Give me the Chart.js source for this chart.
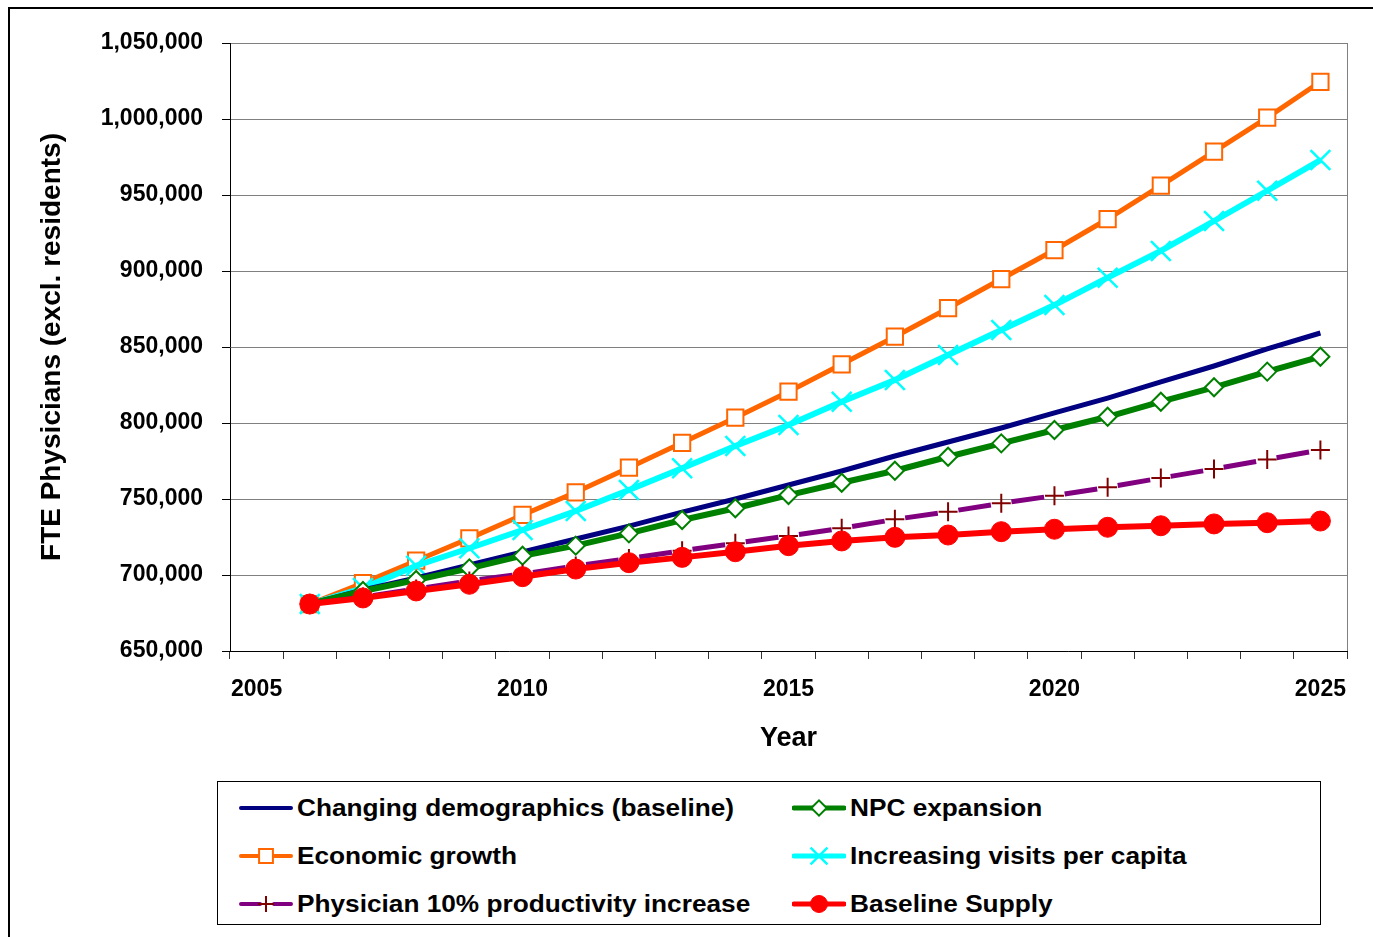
<!DOCTYPE html>
<html>
<head>
<meta charset="utf-8">
<script src="https://cdn.jsdelivr.net/npm/chart.js"></script>
<style>
    body { margin: 0; background: #fff; font-family: "Liberation Sans", Arial, sans-serif; }
    #frame { position: absolute; left: 8px; top: 7px; width: 1400px; height: 960px; border: 2px solid #000; box-sizing: border-box; }
    #wrap { position: absolute; left: 0; top: 0; width: 1373px; height: 937px; }
    #legend { position: absolute; left: 217px; top: 781px; width: 1104px; height: 144px; border: 1px solid #000; box-sizing: border-box; background: #fff; }
    .item { position: absolute; height: 30px; display: flex; align-items: center; }
    .item canvas { display: block; }
    .item span { font-weight: bold; font-size: 23px; color: #000; white-space: nowrap; transform: scaleX(1.14); transform-origin: left center; margin-left: 4px; }
</style>
</head>
<body>
<div id="frame"></div>
<div id="wrap"><canvas id="physChart" width="1373" height="937"></canvas></div>
<div id="legend"></div>
<script>
// category axis (2005 has no data)
const years = [2005, 2006, 2007, 2008, 2009, 2010, 2011, 2012, 2013, 2014, 2015,
    2016, 2017, 2018, 2019, 2020, 2021, 2022, 2023, 2024, 2025];

// series values 2006..2025
const demographics = [680900, 690100, 698000, 706600, 715100, 723700, 732200, 741400, 750000, 759200,
    768400, 778300, 787500, 796700, 806600, 816400, 827000, 837500, 848700, 859200];
const npcExpansion = [680900, 689500, 696700, 704400, 712700, 719300, 727400, 736200, 743900, 752600,
    760700, 768600, 777800, 786600, 795400, 804100, 814000, 823500, 833800, 843600];
const economicGrowth = [680900, 694700, 709400, 724100, 739500, 754400, 770600, 787000, 803500, 820600,
    838600, 856800, 875500, 894700, 913800, 934200, 956100, 978500, 1000900, 1024500];
const visitsPerCapita = [680900, 691400, 706100, 717600, 729600, 742100, 755900, 770200, 784900, 798700,
    814000, 828300, 844700, 861200, 877600, 895600, 913200, 932900, 952800, 973000];
const productivity = [680900, 685500, 690800, 696100, 700700, 705900, 710900, 716000, 720900, 725700,
    730700, 736600, 741600, 747200, 752200, 757700, 763800, 769700, 776000, 782200];
const baselineSupply = [680900, 684900, 689500, 693900, 698900, 703900, 708100, 711600, 715300, 719300,
    722400, 724800, 726300, 728500, 730100, 731400, 732400, 733600, 734400, 735500];

const yTicks = [650000, 700000, 750000, 800000, 850000, 900000, 950000, 1000000, 1050000];

Chart.defaults.font.family = '"Liberation Sans", Arial, sans-serif';
Chart.defaults.color = '#000';

function withGap(values) {
    return [null].concat(values);
}

const seriesDefs = [
    { label: 'Changing demographics (baseline)', values: demographics, color: '#000080', width: 5,
        point: false, order: 3 },
    { label: 'NPC expansion', values: npcExpansion, color: '#008000', width: 6,
        point: { style: 'rectRot', radius: 9, fill: '#fff', stroke: '#008000', lw: 2 }, order: 2 },
    { label: 'Economic growth', values: economicGrowth, color: '#FF6600', width: 5,
        point: { style: 'rect', radius: 11.5, fill: '#fff', stroke: '#FF6600', lw: 2 }, order: 5 },
    { label: 'Increasing visits per capita', values: visitsPerCapita, color: '#00FFFF', width: 6,
        point: { style: 'crossRot', radius: 14, fill: '#00FFFF', stroke: '#00FFFF', lw: 2.5 }, order: 4 },
    { label: 'Physician 10% productivity increase', values: productivity, color: '#800080', width: 5,
        dash: [33, 20.75], dashOffset: 43.4,
        point: { style: 'cross', radius: 9.5, fill: '#800000', stroke: '#800000', lw: 2 }, order: 1 },
    { label: 'Baseline Supply', values: baselineSupply, color: '#FF0000', width: 6,
        point: { style: 'circle', radius: 10, fill: '#FF0000', stroke: '#FF0000', lw: 1 }, order: 0 }
];

const datasets = seriesDefs.map(s => ({
    label: s.label,
    data: withGap(s.values),
    borderColor: s.color,
    borderWidth: s.width,
    borderDash: s.dash || [],
    borderDashOffset: s.dashOffset || 0,
    borderCapStyle: 'butt',
    tension: 0,
    fill: false,
    order: s.order,
    pointStyle: s.point ? s.point.style : false,
    pointRadius: s.point ? s.point.radius : 0,
    pointBackgroundColor: s.point ? s.point.fill : s.color,
    pointBorderColor: s.point ? s.point.stroke : s.color,
    pointBorderWidth: s.point ? s.point.lw : 0,
    pointHoverRadius: s.point ? s.point.radius : 0
}));

// right edge of the plot area
const plotFrame = {
    id: 'plotFrame',
    beforeDatasetsDraw(chart) {
        const a = chart.chartArea;
        const ctx = chart.ctx;
        ctx.save();
        ctx.strokeStyle = '#808080';
        ctx.lineWidth = 1;
        ctx.beginPath();
        ctx.moveTo(a.right + 0.5, a.top);
        ctx.lineTo(a.right + 0.5, a.bottom);
        ctx.stroke();
        ctx.restore();
    }
};

const chart = new Chart(document.getElementById('physChart'), {
    type: 'line',
    data: { labels: years.map(String), datasets: datasets },
    plugins: [plotFrame],
    options: {
        responsive: false,
        animation: false,
        devicePixelRatio: 1,
        layout: { padding: { left: 0, top: 43, right: 26, bottom: 176 } },
        plugins: { legend: { display: false }, tooltip: { enabled: false } },
        scales: {
            x: {
                type: 'category',
                offset: true,
                afterFit: scale => { scale.height = 110; },
                grid: { offset: true, drawOnChartArea: false, tickLength: 8, tickColor: '#333' },
                border: { color: '#000', width: 1 },
                ticks: {
                    autoSkip: false, maxRotation: 0, padding: 17,
                    font: { size: 23, weight: 'bold' },
                    callback: (v, i) => (years[i] % 5 === 0 ? String(years[i]) : '')
                },
                title: { display: true, text: 'Year', font: { size: 27, weight: 'bold' },
                    padding: { top: 0, bottom: 6 } }
            },
            y: {
                min: yTicks[0],
                max: yTicks[yTicks.length - 1],
                afterFit: scale => { scale.width = 230; },
                afterBuildTicks: scale => { scale.ticks = yTicks.map(v => ({ value: v })); },
                grid: { color: '#808080', tickColor: '#000', tickLength: 8 },
                border: { color: '#000', width: 1 },
                ticks: {
                    padding: 19,
                    font: { size: 23, weight: 'bold' },
                    callback: v => v.toLocaleString('en-US')
                },
                title: { display: true, text: 'FTE Physicians (excl. residents)',
                    font: { size: 28, weight: 'bold' }, padding: { top: 35, bottom: 0 } }
            }
        }
    }
});

// legend: two columns, three rows
const legendBox = document.getElementById('legend');
const legendPos = [
    { x: 21, y: 11 }, { x: 574, y: 11 },
    { x: 21, y: 59 }, { x: 574, y: 59 },
    { x: 21, y: 107 }, { x: 574, y: 107 }
];

seriesDefs.forEach((s, i) => {
    const item = document.createElement('div');
    item.className = 'item';
    item.style.left = legendPos[i].x + 'px';
    item.style.top = legendPos[i].y + 'px';

    const c = document.createElement('canvas');
    c.width = 54;
    c.height = 30;
    const ctx = c.getContext('2d');
    ctx.strokeStyle = s.color;
    ctx.lineWidth = s.width - 1;
    ctx.lineCap = 'round';
    if (s.dash) ctx.setLineDash([19, 14]);
    ctx.beginPath();
    ctx.moveTo(2, 15);
    ctx.lineTo(52, 15);
    ctx.stroke();
    ctx.setLineDash([]);
    if (s.point) {
        ctx.fillStyle = s.point.fill;
        ctx.strokeStyle = s.point.stroke;
        ctx.lineWidth = s.point.lw;
        ctx.lineCap = 'butt';
        Chart.helpers.drawPoint(ctx, {
            pointStyle: s.point.style, radius: s.point.radius * 0.85, rotation: 0, borderWidth: s.point.lw
        }, 27, 15);
    }
    item.appendChild(c);

    const t = document.createElement('span');
    t.textContent = s.label;
    item.appendChild(t);
    legendBox.appendChild(item);
});
</script>
</body>
</html>
